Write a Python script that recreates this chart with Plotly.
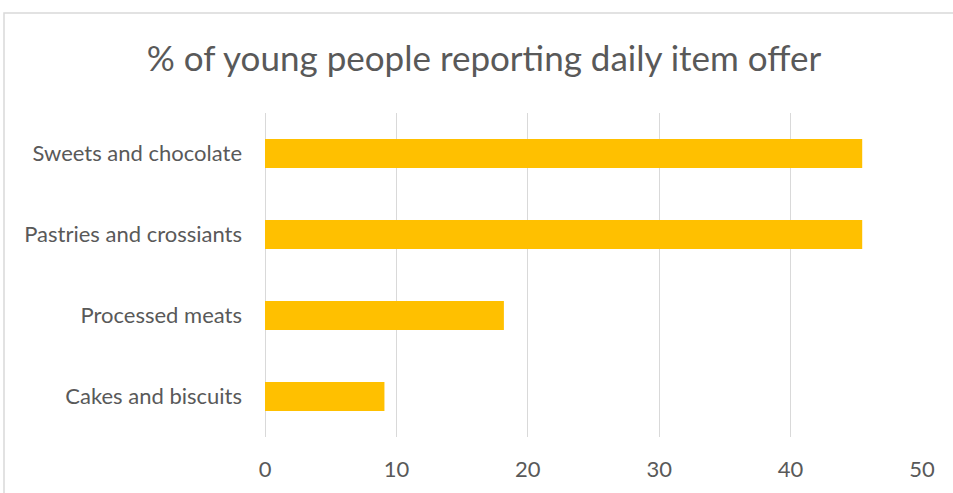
import plotly.graph_objects as go

categories = ["Cakes and biscuits", "Processed meats", "Pastries and crossiants", "Sweets and chocolate"]
values = [9.09, 18.18, 45.45, 45.45]
x_ticks = [0, 10, 20, 30, 40, 50]

FONT = "Lato"
TEXT = "#595959"
GRID = "#d9d9d9"

fig = go.Figure(go.Bar(
    x=values,
    y=categories,
    orientation="h",
    marker=dict(color="#FFC000", line=dict(width=0)),
    hoverinfo="x+y",
))

fig.update_layout(
    width=953,
    height=493,
    margin=dict(l=265, r=31, t=113, b=56),
    paper_bgcolor="white",
    plot_bgcolor="white",
    bargap=0.64,
    showlegend=False,
    title=dict(
        text="% of young people reporting daily item offer",
        x=484 / 953, xanchor="center",
        y=1 - 59 / 493, yanchor="middle",
        font=dict(family=FONT, size=35, color=TEXT),
    ),
    font=dict(family=FONT, color=TEXT),
    xaxis=dict(
        range=[0, 50],
        tickvals=x_ticks,
        showgrid=True, gridcolor=GRID, gridwidth=1,
        zeroline=True, zerolinecolor=GRID, zerolinewidth=1,
        showline=False, ticks="",
        tickfont=dict(family=FONT, size=22, color=TEXT),
        ticklabelstandoff=17,
    ),
    yaxis=dict(
        showgrid=False, zeroline=False, showline=False, ticks="",
        tickfont=dict(family=FONT, size=22, color=TEXT),
        ticklabelstandoff=22,
    ),
    shapes=[
        # chart frame
        dict(type="rect", xref="paper", yref="paper",
             x0=(4 - 265) / 657, x1=(960 - 265) / 657,
             y0=(437 - 500) / 324, y1=(437 - 13) / 324,
             line=dict(color=GRID, width=1.5), fillcolor="rgba(0,0,0,0)", layer="below"),
    ],
)

fig.write_html("out.html")
